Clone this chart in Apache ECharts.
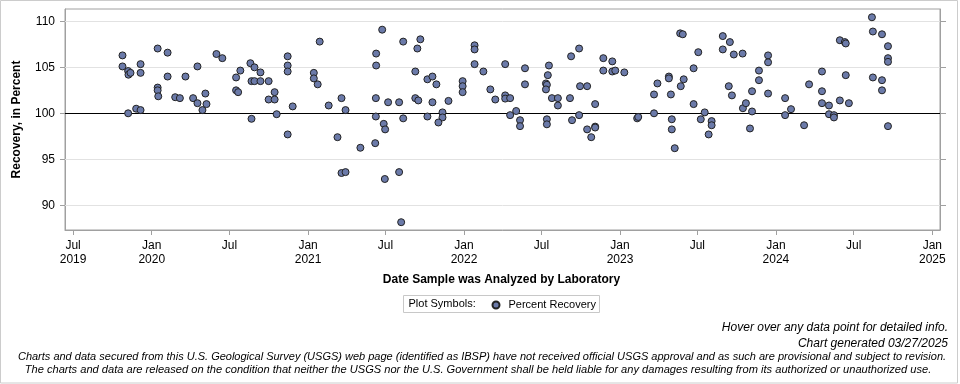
<!DOCTYPE html>
<html>
<head>
<meta charset="utf-8">
<script src="https://cdn.jsdelivr.net/npm/echarts@6/dist/echarts.min.js"></script>
<style>
html,body{margin:0;padding:0;background:#fff;}
#chart{width:960px;height:384px;}
</style>
</head>
<body>
<div id="chart"></div>
<script>
// Analysis dates as decimal years (x.5 = Jul 1)
const analysisDate = [
2019.814,2019.814,2019.850,2019.852,2019.865,2019.850,2019.901,2019.929,2019.929,2019.929,
2020.038,2020.038,2020.038,2020.042,2020.102,2020.102,2020.151,2020.181,2020.217,2020.266,
2020.294,2020.294,2020.326,2020.345,2020.352,2020.416,2020.454,
2020.542,2020.569,2020.542,2020.555,2020.633,2020.659,2020.697,2020.640,2020.659,2020.697,
2020.749,2020.640,2020.787,2020.749,2020.787,2020.800,2020.870,2020.870,2020.870,2020.870,2020.902,
2021.075,2021.037,2021.037,2021.062,2021.133,2021.216,2021.190,2021.242,2021.216,2021.242,
2021.338,2021.434,2021.479,2021.440,2021.440,2021.438,2021.438,2021.489,2021.498,2021.496,
2021.517,2021.587,2021.587,2021.600,2021.613,2021.613,
2021.722,2021.703,2021.690,2021.690,2021.709,2021.767,2021.799,2021.824,2021.767,2021.799,
2021.863,2021.863,2021.837,2021.901,2021.991,2021.991,2021.991,
2022.068,2022.068,2022.068,2022.125,2022.170,2022.202,2022.266,2022.266,2022.266,2022.298,
2022.298,2022.337,2022.362,2022.362,2022.394,2022.394,
2022.548,2022.541,2022.529,2022.535,2022.529,2022.567,2022.605,2022.605,2022.535,2022.535,
2022.689,2022.740,2022.682,2022.746,2022.791,2022.740,2022.695,2022.791,2022.817,2022.842,
2022.842,2022.842,2022.894,2022.894,2022.951,2022.951,2022.970,
2023.028,2023.111,2023.118,2023.220,2023.242,2023.220,2023.316,2023.316,2023.329,2023.335,
2023.335,2023.354,2023.389,2023.406,2023.393,2023.412,2023.476,2023.476,
2023.506,2023.522,2023.547,2023.572,2023.591,2023.591,2023.662,2023.662,2023.707,2023.732,
2023.788,2023.700,2023.720,2023.790,2023.809,2023.848,2023.848,2023.835,2023.892,2023.892,
2023.950,2023.950,2023.950,
2024.059,2024.059,2024.097,2024.181,2024.213,2024.296,2024.296,2024.296,2024.341,2024.341,
2024.373,2024.373,2024.411,2024.443,2024.449,2024.411,2024.449,2024.469,
2024.616,2024.622,2024.622,2024.680,2024.680,2024.680,2024.718,2024.718,2024.718,2024.718
];
// Percent recovery, same order
const percentRecovery = [
106.3,105.1,104.6,104.2,104.4,100.0,100.5,100.35,105.35,104.4,
107.05,102.8,102.5,101.85,106.6,104.0,101.75,101.65,104.0,101.65,
105.1,101.1,100.35,102.15,101.0,106.45,106.0,
103.9,104.65,102.5,102.3,105.45,105.0,104.45,103.5,103.5,103.5,
103.5,99.4,102.3,101.5,101.5,99.9,106.2,105.2,104.55,97.7,100.75,
107.8,104.4,103.8,103.15,100.85,101.65,97.4,100.35,93.5,93.6,
96.25,96.75,109.1,106.5,105.2,101.65,99.65,98.85,98.25,92.85,
101.2,101.2,93.6,88.15,107.8,99.45,
108.05,107.05,104.55,101.65,101.4,103.7,104.0,103.15,99.65,101.2,
100.1,99.55,99.0,101.35,103.5,102.95,102.3,
107.4,106.95,105.35,104.55,102.6,101.5,105.35,101.95,101.6,101.65,
99.8,100.25,99.25,98.6,104.9,103.15,
105.2,104.15,103.25,103.1,102.6,101.65,101.65,100.85,99.35,98.8,
106.2,107.05,101.65,102.95,102.95,99.8,99.25,98.25,97.4,98.55,
98.45,101.0,106.0,104.65,105.65,104.55,104.65,
104.45,99.45,99.6,102.05,103.25,100.0,104.0,103.8,102.05,99.35,
98.25,96.2,108.7,108.6,102.95,103.7,104.9,101.0,
106.65,99.35,100.1,97.7,99.15,98.7,108.4,106.95,107.75,106.4,
106.5,102.95,101.95,100.55,101.1,102.4,100.2,98.35,104.65,103.6,
106.3,105.55,102.15,
101.65,99.8,100.45,98.7,103.15,104.55,102.4,101.1,100.85,99.9,
99.8,99.55,107.95,107.75,107.6,101.4,104.15,101.1,
110.45,108.9,103.9,108.6,103.6,102.5,107.3,106.0,105.6,98.6
];
const xTickDates = ['2019-07-01','2020-01-01','2020-07-01','2021-01-01','2021-07-01','2022-01-01',
  '2022-07-01','2023-01-01','2023-07-01','2024-01-01','2024-07-01','2025-01-01'];
const xTickLabels = ['Jul\n2019','Jan\n2020','Jul','Jan\n2021','Jul','Jan\n2022',
  'Jul','Jan\n2023','Jul','Jan\n2024','Jul','Jan\n2025'];
const yTicks = [90, 95, 100, 105, 110];
const yGridLines = [90, 95, 105, 110];
const referenceLine = 100;

const FONT = '"Liberation Sans", Arial, sans-serif';

function toTime(dy) {
  const y = Math.floor(dy), f = dy - y;
  const jan = Date.UTC(y, 0, 1), jul = Date.UTC(y, 6, 1), nxt = Date.UTC(y + 1, 0, 1);
  return f < 0.5 ? jan + (f / 0.5) * (jul - jan) : jul + ((f - 0.5) / 0.5) * (nxt - jul);
}
const xTickValues = xTickDates.map(s => Date.parse(s + 'T00:00:00Z'));
const labelByValue = {};
xTickValues.forEach((v, i) => { labelByValue[v] = xTickLabels[i]; });

const points = analysisDate.map((d, i) => [toTime(d), percentRecovery[i]]);

const chart = echarts.init(document.getElementById('chart'), null, {renderer: 'canvas'});
chart.setOption({
  animation: false,
  backgroundColor: '#fff',
  grid: {left: 65, right: 20, top: 9, bottom: 154, show: true, borderColor: '#a0a0a0', borderWidth: 1, containLabel: false},
  xAxis: {
    type: 'value',
    min: Date.UTC(2019, 5, 12),
    max: Date.UTC(2025, 0, 19),
    axisLine: {show: true, lineStyle: {color: '#a0a0a0'}},
    axisTick: {show: true, customValues: xTickValues, length: 5, inside: false, lineStyle: {color: '#a0a0a0'}},
    axisLabel: {show: true, customValues: xTickValues, margin: 9, lineHeight: 14,
      fontFamily: FONT, fontSize: 12, color: '#000',
      formatter: v => labelByValue[v] || ''},
    splitLine: {show: false}
  },
  yAxis: [{
    type: 'value', min: 87.3, max: 111.35, position: 'left',
    axisLine: {show: true, lineStyle: {color: '#a0a0a0'}},
    axisTick: {show: true, customValues: yTicks, length: 5, lineStyle: {color: '#a0a0a0'}},
    axisLabel: {show: true, customValues: yTicks, margin: 10, fontFamily: FONT, fontSize: 12, color: '#000'},
    splitLine: {show: false}
  }, {
    type: 'value', min: 87.3, max: 111.35, position: 'right',
    axisLine: {show: true, lineStyle: {color: '#a0a0a0'}},
    axisTick: {show: true, customValues: yTicks, length: 6, lineStyle: {color: '#a0a0a0'}},
    axisLabel: {show: false},
    splitLine: {show: false}
  }],
  legend: {
    show: true, left: 491.5, top: 299.5, padding: 0, icon: 'circle', itemWidth: 7, itemHeight: 7,
    textStyle: {fontFamily: FONT, fontSize: 11, color: '#000', padding: [0, 0, 0, 4]},
    data: ['Percent Recovery']
  },
  series: [{
    name: 'Percent Recovery',
    type: 'scatter',
    z: 3,
    symbol: 'circle',
    symbolSize: 7,
    itemStyle: {color: '#6b7aa9', borderColor: '#222', borderWidth: 1, opacity: 1},
    data: points,
    markLine: {
      silent: true, symbol: 'none', z: 1, animation: false,
      label: {show: false},
      data: yGridLines.map(v => ({yAxis: v, lineStyle: {color: '#e2e2e2', width: 1, type: 'solid'}}))
        .concat([{yAxis: referenceLine, lineStyle: {color: '#000', width: 1.2, type: 'solid'}}])
    }
  }],
  graphic: [
    {type: 'rect', silent: true, shape: {x: 0.5, y: 0.5, width: 957, height: 382.5}, style: {fill: null, stroke: '#cccccc', lineWidth: 1}},
    {type: 'text', silent: true, x: 17, y: 119.5, rotation: Math.PI / 2,
      style: {text: 'Recovery, in Percent', fontFamily: FONT, fontSize: 12, fontWeight: 'bold', fill: '#000', align: 'center', verticalAlign: 'middle'}},
    {type: 'text', silent: true, x: 501.5, y: 280,
      style: {text: 'Date Sample was Analyzed by Laboratory', fontFamily: FONT, fontSize: 12, fontWeight: 'bold', fill: '#000', align: 'center', verticalAlign: 'middle'}},
    {type: 'rect', silent: true, shape: {x: 403.5, y: 295.5, width: 196, height: 17}, style: {fill: null, stroke: '#c8c8c8', lineWidth: 1}},
    {type: 'text', silent: true, x: 408.5, y: 304,
      style: {text: 'Plot Symbols:', fontFamily: FONT, fontSize: 11, fill: '#000', align: 'left', verticalAlign: 'middle'}},
    {type: 'text', silent: true, x: 948, y: 328,
      style: {text: 'Hover over any data point for detailed info.', fontFamily: FONT, fontSize: 12, fontStyle: 'italic', fill: '#000', align: 'right', verticalAlign: 'middle'}},
    {type: 'text', silent: true, x: 948, y: 344,
      style: {text: 'Chart generated 03/27/2025', fontFamily: FONT, fontSize: 12, fontStyle: 'italic', fill: '#000', align: 'right', verticalAlign: 'middle'}},
    {type: 'text', silent: true, x: 482, y: 357,
      style: {text: 'Charts and data secured from this U.S. Geological Survey (USGS) web page (identified as IBSP) have not received official USGS approval and as such are provisional and subject to revision.', fontFamily: FONT, fontSize: 11, fontStyle: 'italic', fill: '#000', align: 'center', verticalAlign: 'middle'}},
    {type: 'text', silent: true, x: 478, y: 369.5,
      style: {text: 'The charts and data are released on the condition that neither the USGS nor the U.S. Government shall be held liable for any damages resulting from its authorized or unauthorized use.', fontFamily: FONT, fontSize: 11.1, fontStyle: 'italic', fill: '#000', align: 'center', verticalAlign: 'middle'}}
  ]
});
</script>
</body>
</html>
